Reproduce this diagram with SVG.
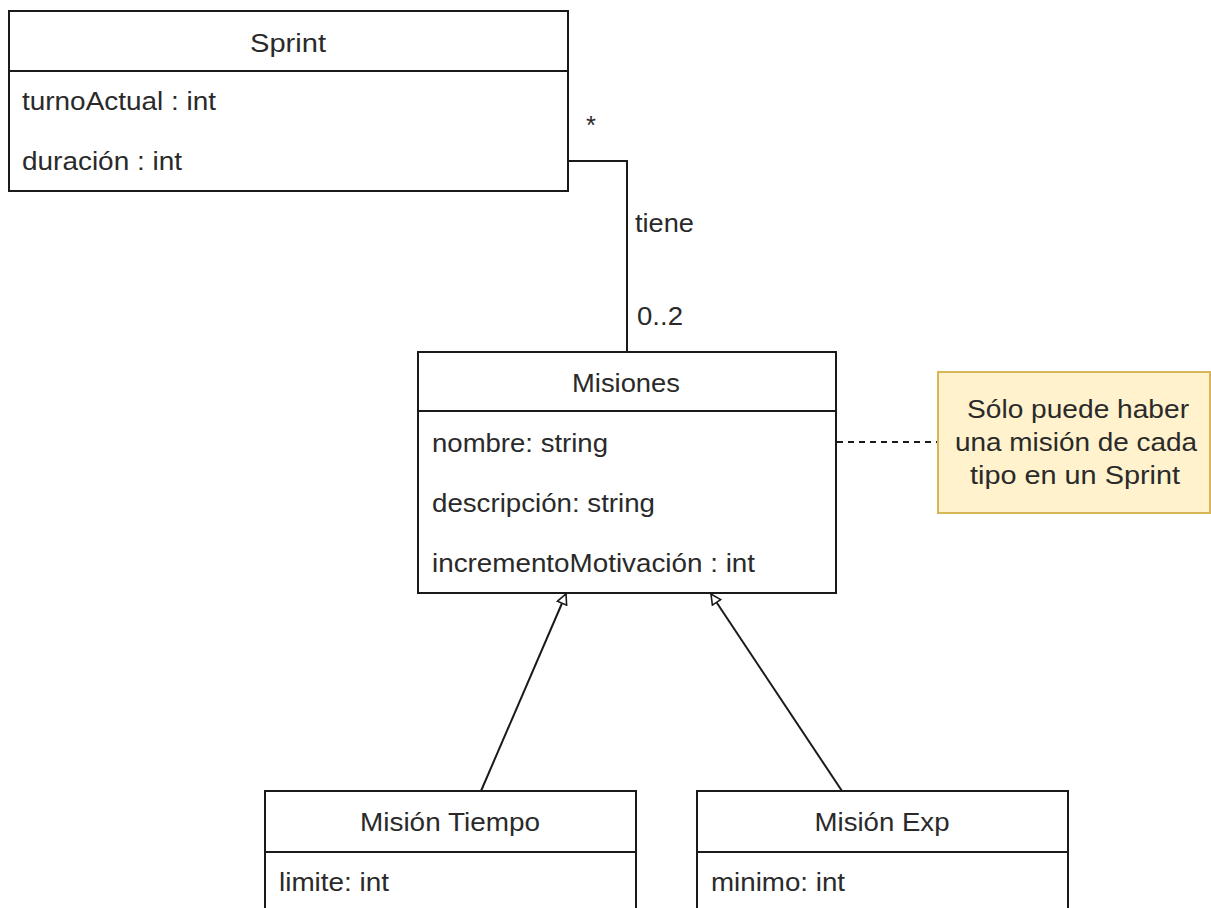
<svg xmlns="http://www.w3.org/2000/svg" width="1211" height="908" viewBox="0 0 1211 908">
  <style>
    .box { fill: #ffffff; stroke: #1a1a1a; stroke-width: 2; }
    .div { stroke: #1a1a1a; stroke-width: 2; fill: none; }
    .edge { stroke: #1a1a1a; stroke-width: 2; fill: none; }
    .t { font-family: "Liberation Sans", Arial, sans-serif; font-size: 25.5px; fill: #2a2a2a; }
    .c { text-anchor: middle; }
    .note { fill: #fff2cc; stroke: #d6b656; stroke-width: 2; }
  </style>
  <defs>
    <marker id="gen" viewBox="0 0 12 12" refX="11" refY="6" markerWidth="12" markerHeight="12" markerUnits="userSpaceOnUse" orient="auto">
      <path d="M1,1 L11,6 L1,11 Z" fill="#ffffff" stroke="#1a1a1a" stroke-width="1.6"/>
    </marker>
  </defs>
  <rect width="1211" height="908" fill="#ffffff"/>

  <g id="connectors">
    <path class="edge" d="M568,161 H627 V352"/>
    <text class="t" x="586" y="134" font-size="20">*</text>
    <text class="t" x="635" y="232" textLength="59" lengthAdjust="spacingAndGlyphs">tiene</text>
    <text class="t" x="637" y="325" textLength="46" lengthAdjust="spacingAndGlyphs">0..2</text>
    <line class="edge" x1="481" y1="791" x2="566" y2="594" marker-end="url(#gen)"/>
    <line class="edge" x1="842" y1="791" x2="711" y2="594" marker-end="url(#gen)"/>
    <line class="edge" x1="837" y1="442" x2="938" y2="442" stroke-dasharray="6,5"/>
  </g>

  <g id="sprint">
    <rect class="box" x="9" y="11" width="559" height="180"/>
    <line class="div" x1="9" y1="71" x2="568" y2="71"/>
    <text class="t c" x="288" y="52" textLength="76" lengthAdjust="spacingAndGlyphs">Sprint</text>
    <text class="t" x="22" y="110" textLength="194" lengthAdjust="spacingAndGlyphs">turnoActual : int</text>
    <text class="t" x="22" y="170" textLength="160" lengthAdjust="spacingAndGlyphs">duración : int</text>
  </g>

  <g id="misiones">
    <rect class="box" x="418" y="352" width="418" height="241"/>
    <line class="div" x1="418" y1="411" x2="836" y2="411"/>
    <text class="t c" x="626" y="392" textLength="108" lengthAdjust="spacingAndGlyphs">Misiones</text>
    <text class="t" x="432" y="452" textLength="176" lengthAdjust="spacingAndGlyphs">nombre: string</text>
    <text class="t" x="432" y="512" textLength="223" lengthAdjust="spacingAndGlyphs">descripción: string</text>
    <text class="t" x="432" y="572" textLength="323" lengthAdjust="spacingAndGlyphs">incrementoMotivación : int</text>
  </g>

  <g id="nota">
    <rect class="note" x="938" y="372" width="272" height="141"/>
    <text class="t c" x="1078" y="418" textLength="222" lengthAdjust="spacingAndGlyphs">Sólo puede haber</text>
    <text class="t c" x="1076" y="451" textLength="242" lengthAdjust="spacingAndGlyphs">una misión de cada</text>
    <text class="t c" x="1075" y="484" textLength="210" lengthAdjust="spacingAndGlyphs">tipo en un Sprint</text>
  </g>

  <g id="mision-tiempo">
    <rect class="box" x="265" y="791" width="371" height="130"/>
    <line class="div" x1="265" y1="852" x2="636" y2="852"/>
    <text class="t c" x="450" y="831" textLength="180" lengthAdjust="spacingAndGlyphs">Misión Tiempo</text>
    <text class="t" x="279" y="891" textLength="110" lengthAdjust="spacingAndGlyphs">limite: int</text>
  </g>

  <g id="mision-exp">
    <rect class="box" x="697" y="791" width="371" height="130"/>
    <line class="div" x1="697" y1="852" x2="1068" y2="852"/>
    <text class="t c" x="882" y="831" textLength="135" lengthAdjust="spacingAndGlyphs">Misión Exp</text>
    <text class="t" x="711" y="891" textLength="134" lengthAdjust="spacingAndGlyphs">minimo: int</text>
  </g>
</svg>
